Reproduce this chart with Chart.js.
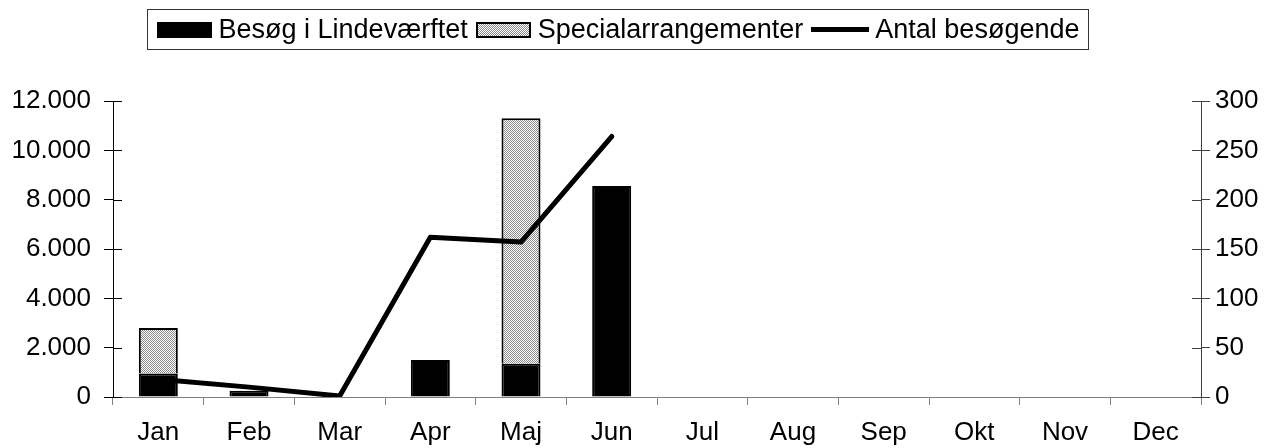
<!DOCTYPE html>
<html>
<head>
<meta charset="utf-8">
<script src="https://cdn.jsdelivr.net/npm/chart.js@4/dist/chart.umd.min.js"></script>
<style>
    body { margin: 0; background: #fff; }
    #wrap { position: relative; width: 1269px; height: 448px; }
    #legend {
        position: absolute; left: 147px; top: 9px; width: 940px; height: 39px;
        border: 1px solid #333; display: flex; align-items: center; justify-content: center;
        font-family: "Liberation Sans", Arial, sans-serif; font-size: 27px; color: #000;
        white-space: nowrap; box-sizing: content-box;
    }
    .item { display: flex; align-items: center; margin: 0 4px; flex-shrink: 0; }
    .swatch { width: 55px; height: 16px; margin-right: 7px; box-sizing: border-box; flex-shrink: 0; }
    .lineSwatch { width: 58px; height: 5px; margin-right: 6px; background: #000; flex-shrink: 0; }
</style>
</head>
<body>
<div id="wrap">
    <canvas id="chart" width="1269" height="448"></canvas>
    <div id="legend"></div>
</div>
<script>
// Data
const months = ["Jan", "Feb", "Mar", "Apr", "Maj", "Jun", "Jul", "Aug", "Sep", "Okt", "Nov", "Dec"];
const besoegLindevaerftet = [950, 250, null, 1500, 1350, 8550, null, null, null, null, null, null];
const specialarrangementer = [1850, null, null, null, 9950, null, null, null, null, null, null, null];
const antalBesoegende = [18, 10, 1, 162, 157, 264, null, null, null, null, null, null];

// Dotted grey fill like the Excel pattern
function makePattern() {
    const c = document.createElement("canvas");
    c.width = 2; c.height = 2;
    const g = c.getContext("2d");
    g.fillStyle = "#ffffff";
    g.fillRect(0, 0, 2, 2);
    g.fillStyle = "#8a8a8a";
    g.fillRect(0, 0, 1, 1);
    g.fillRect(1, 1, 1, 1);
    return g.createPattern(c, "repeat");
}
const dotted = makePattern();

function fmt(v) {
    return String(v).replace(/\B(?=(\d{3})+(?!\d))/g, ".");
}

// Ticks that cross the value axes (inner half)
const innerTicks = {
    id: "innerTicks",
    afterDraw(chart) {
        const ctx = chart.ctx;
        ctx.save();
        ctx.lineWidth = 1;
        [["y", 1, "#000"], ["y1", -1, "#404040"]].forEach(([id, dir, col]) => {
            const s = chart.scales[id];
            const x = dir > 0 ? s.right : s.left;
            ctx.strokeStyle = col;
            s.ticks.forEach(t => {
                const y = Math.round(s.getPixelForValue(t.value)) + 0.5;
                ctx.beginPath();
                ctx.moveTo(x, y);
                ctx.lineTo(x + dir * 9, y);
                ctx.stroke();
            });
        });
        ctx.restore();
    }
};

Chart.defaults.font.family = "'Liberation Sans', Arial, sans-serif";
Chart.defaults.font.size = 26;
Chart.defaults.color = "#000";

const chart = new Chart(document.getElementById("chart"), {
    type: "bar",
    data: {
        labels: months,
        datasets: [
            {
                label: "Besøg i Lindeværftet",
                data: besoegLindevaerftet,
                backgroundColor: "#000",
                borderColor: "#000",
                borderWidth: 2,
                yAxisID: "y",
                order: 1,
                categoryPercentage: 1,
                barPercentage: 0.43
            },
            {
                label: "Specialarrangementer",
                data: specialarrangementer,
                backgroundColor: dotted,
                borderColor: "#000",
                borderWidth: 2,
                yAxisID: "y",
                order: 1,
                categoryPercentage: 1,
                barPercentage: 0.43
            },
            {
                type: "line",
                label: "Antal besøgende",
                data: antalBesoegende,
                borderColor: "#000",
                borderWidth: 5,
                tension: 0,
                pointRadius: 0,
                borderCapStyle: "round",
                borderJoinStyle: "round",
                fill: false,
                yAxisID: "y1",
                order: 0
            }
        ]
    },
    options: {
        responsive: false,
        animation: false,
        layout: { padding: { top: 101, bottom: 0, left: 0, right: 0 } },
        plugins: {
            legend: { display: false },
            tooltip: { enabled: false }
        },
        scales: {
            x: {
                stacked: true,
                offset: true,
                grid: { offset: true, drawOnChartArea: false, tickLength: 8, color: "#808080" },
                border: { color: "#808080", width: 1 },
                ticks: { padding: 12, maxRotation: 0 },
                afterFit: s => { s.height = 51; }
            },
            y: {
                stacked: true,
                min: 0,
                max: 12000,
                position: "left",
                grid: { drawOnChartArea: false, tickLength: 9, color: "#000" },
                border: { color: "#000", width: 1 },
                ticks: { stepSize: 2000, padding: 13, callback: v => fmt(v) },
                afterFit: s => { s.width = 113; }
            },
            y1: {
                min: 0,
                max: 300,
                position: "right",
                grid: { drawOnChartArea: false, tickLength: 9, color: "#404040" },
                border: { color: "#404040", width: 1 },
                ticks: { stepSize: 50, padding: 5 },
                afterFit: s => { s.width = 68; }
            }
        }
    },
    plugins: [innerTicks]
});

// HTML legend built from the datasets
const legend = document.getElementById("legend");
chart.data.datasets.forEach(ds => {
    const item = document.createElement("div");
    item.className = "item";
    const sw = document.createElement("span");
    if (ds.type === "line") {
        sw.className = "lineSwatch";
    } else {
        sw.className = "swatch";
        sw.style.border = "2px solid #000";
        sw.style.background = ds.backgroundColor === "#000" ? "#000"
            : "repeating-conic-gradient(#8a8a8a 0 25%, #fff 0 50%) 0 0 / 2px 2px";
    }
    const txt = document.createElement("span");
    txt.textContent = ds.label;
    item.appendChild(sw);
    item.appendChild(txt);
    legend.appendChild(item);
});
</script>
</body>
</html>
